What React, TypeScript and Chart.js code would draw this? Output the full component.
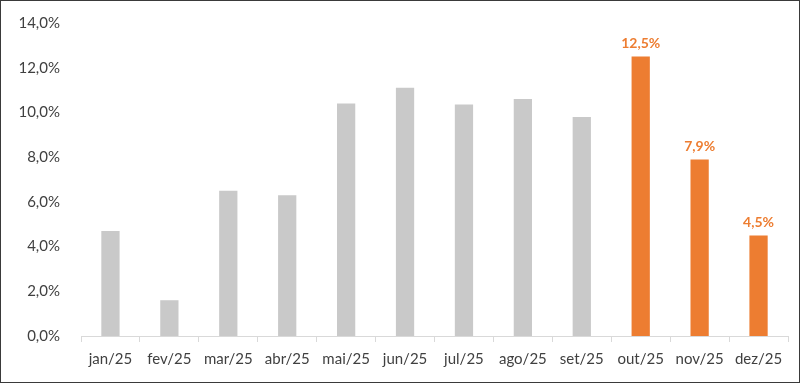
import React, { useEffect, useRef } from "react";
import { Chart, registerables } from "chart.js";

Chart.register(...registerables);

const categories = ["jan/25", "fev/25", "mar/25", "abr/25", "mai/25", "jun/25", "jul/25", "ago/25", "set/25", "out/25", "nov/25", "dez/25"];
const values = [4.7, 1.6, 6.5, 6.3, 10.4, 11.1, 10.35, 10.6, 9.8, 12.5, 7.9, 4.5];
const highlighted = [false, false, false, false, false, false, false, false, false, true, true, true];
const yTicks = [0, 2, 4, 6, 8, 10, 12, 14];

const GRAY = "#c9c9c9";
const ORANGE = "#ed7d31";
const FONT = "Lato, 'Open Sans', sans-serif";

const fmt = (v: number) => v.toFixed(1).replace(".", ",") + "%";

const labelPlugin = {
  id: "valueLabels",
  afterDatasetsDraw(chart: any) {
    const ctx = chart.ctx;
    const meta = chart.getDatasetMeta(0);
    ctx.save();
    ctx.font = `bold 14px ${FONT}`;
    ctx.fillStyle = ORANGE;
    ctx.textAlign = "center";
    ctx.textBaseline = "bottom";
    meta.data.forEach((bar: any, i: number) => {
      if (!highlighted[i]) return;
      ctx.fillText(fmt(values[i]), bar.x, bar.y - 6);
    });
    ctx.restore();
  },
};

export default function App() {
  const ref = useRef<HTMLCanvasElement>(null);
  useEffect(() => {
    if (!ref.current) return;
    const chart = new Chart(ref.current, {
      type: "bar",
      data: {
        labels: categories,
        datasets: [
          {
            data: values,
            backgroundColor: highlighted.map((h) => (h ? ORANGE : GRAY)),
            barPercentage: 0.31,
            categoryPercentage: 1,
          },
        ],
      },
      options: {
        animation: false,
        responsive: false,
        maintainAspectRatio: false,
        layout: { padding: { top: 21, right: 11, bottom: 6, left: 0 } },
        plugins: { legend: { display: false }, tooltip: { enabled: false } },
        scales: {
          x: {
            grid: {
              display: true,
              offset: true,
              drawOnChartArea: false,
              drawTicks: true,
              tickLength: 6,
              color: "#d9d9d9",
            },
            border: { display: true, color: "#d9d9d9" },
            ticks: {
              font: { family: FONT, size: 15 },
              color: "#404040",
              padding: 8,
              maxRotation: 0,
            },
          },
          y: {
            min: 0,
            max: 14,
            afterBuildTicks: (axis: any) => {
              axis.ticks = yTicks.map((v) => ({ value: v }));
            },
            afterFit: (axis: any) => {
              axis.width = 80;
            },
            grid: { display: false },
            border: { display: false },
            ticks: {
              font: { family: FONT, size: 15 },
              color: "#404040",
              padding: 13,
              callback: (v: any) => fmt(Number(v)),
            },
          },
        },
      },
      plugins: [labelPlugin],
    });
    return () => chart.destroy();
  }, []);
  return (
    <div
      style={{
        position: "absolute",
        left: 0,
        top: 0,
        width: 800,
        height: 383,
        border: "1px solid #3a3a3a",
        boxSizing: "border-box",
        background: "#fff",
      }}
    >
      <canvas ref={ref} width={798} height={381} style={{ display: "block" }} />
    </div>
  );
}
